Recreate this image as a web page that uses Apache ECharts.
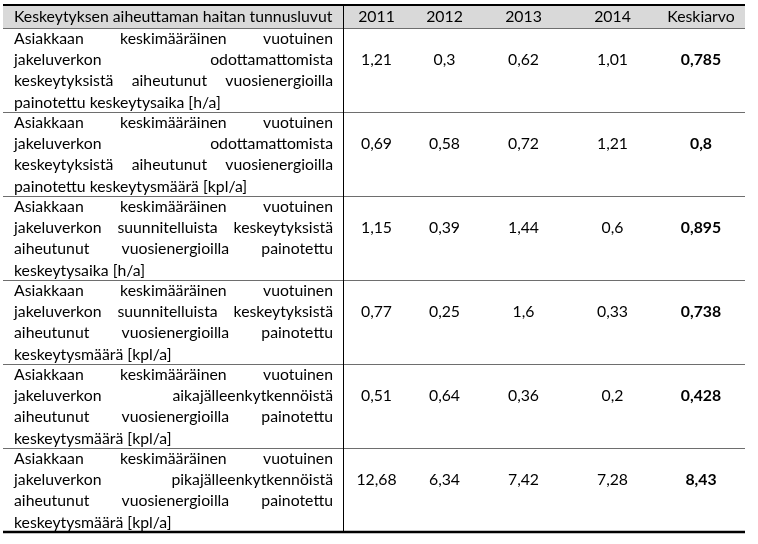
<!DOCTYPE html>
<html>
<head>
<meta charset="utf-8">
<script src="https://cdn.jsdelivr.net/npm/echarts@6/dist/echarts.min.js"></script>
<style>html,body{margin:0;padding:0;background:#fff}#c{width:758px;height:544px}</style>
</head>
<body>
<div id="c"></div>
<script>
// ---- data ----
var headerTitle = "Keskeytyksen aiheuttaman haitan tunnusluvut";
var columns = ["2011", "2012", "2013", "2014", "Keskiarvo"];
var rowLabels = [
  ["Asiakkaan keskimääräinen vuotuinen", "jakeluverkon odottamattomista", "keskeytyksistä aiheutunut vuosienergioilla", "painotettu keskeytysaika [h/a]"],
  ["Asiakkaan keskimääräinen vuotuinen", "jakeluverkon odottamattomista", "keskeytyksistä aiheutunut vuosienergioilla", "painotettu keskeytysmäärä [kpl/a]"],
  ["Asiakkaan keskimääräinen vuotuinen", "jakeluverkon suunnitelluista keskeytyksistä", "aiheutunut vuosienergioilla painotettu", "keskeytysaika [h/a]"],
  ["Asiakkaan keskimääräinen vuotuinen", "jakeluverkon suunnitelluista keskeytyksistä", "aiheutunut vuosienergioilla painotettu", "keskeytysmäärä [kpl/a]"],
  ["Asiakkaan keskimääräinen vuotuinen", "jakeluverkon aikajälleenkytkennöistä", "aiheutunut vuosienergioilla painotettu", "keskeytysmäärä [kpl/a]"],
  ["Asiakkaan keskimääräinen vuotuinen", "jakeluverkon pikajälleenkytkennöistä", "aiheutunut vuosienergioilla painotettu", "keskeytysmäärä [kpl/a]"]
];
var values2011 = [1.21, 0.69, 1.15, 0.77, 0.51, 12.68];
var values2012 = [0.3, 0.58, 0.39, 0.25, 0.64, 6.34];
var values2013 = [0.62, 0.72, 1.44, 1.6, 0.36, 7.42];
var values2014 = [1.01, 1.21, 0.6, 0.33, 0.2, 7.28];
var valuesMean = [0.785, 0.8, 0.895, 0.738, 0.428, 8.43];

// ---- layout / style ----
var FONT_FAMILY = "Lato";
var FONT_SIZE = 15.8;
var colEdges = [3, 343, 410, 479, 568, 657, 745];
var textLeft = 14, textRight = 333;
var lineGap = 21.3;
var firstLineOffset = 10.5;

var seriesCols = [values2011, values2012, values2013, values2014, valuesMean];
var rowIdx = rowLabels.map(function (_, i) { return i; });
var data = rowIdx.map(function (i) {
  return [0, i].concat(seriesCols.map(function (c) { return c[i]; }));
});

var ctx = document.createElement('canvas').getContext('2d');
function font(bold) { return (bold ? 'bold ' : 'normal ') + FONT_SIZE + 'px ' + FONT_FAMILY; }
function measure(t, bold) {
  ctx.font = font(bold);
  return ctx.measureText(t).width;
}
function fmt(v) { return String(v).replace('.', ','); }

function renderItem(params, api) {
  var i = api.value(1);
  var c = api.coord([0, i]);
  var h = api.size([0, 1])[1];
  var top = c[1] - h / 2;
  var children = [];
  var lines = rowLabels[i];
  lines.forEach(function (ln, k) {
    var y = top + firstLineOffset + lineGap * k;
    var words = ln.split(' ');
    if (k === lines.length - 1 || words.length < 2) {
      children.push({ type: 'text', style: { text: ln, x: textLeft, y: y, fill: '#000', font: font(false), align: 'left', verticalAlign: 'middle' } });
    } else {
      var ws = words.map(function (w) { return measure(w, false); });
      var tot = ws.reduce(function (a, b) { return a + b; }, 0);
      var gap = (textRight - textLeft - tot) / (words.length - 1);
      var x = textLeft;
      words.forEach(function (w, j) {
        children.push({ type: 'text', style: { text: w, x: x, y: y, fill: '#000', font: font(false), align: 'left', verticalAlign: 'middle' } });
        x += ws[j] + gap;
      });
    }
  });
  for (var j = 0; j < columns.length; j++) {
    var cx = (colEdges[j + 1] + colEdges[j + 2]) / 2;
    var bold = j === columns.length - 1;
    children.push({ type: 'text', style: { text: fmt(api.value(2 + j)), x: cx, y: top + firstLineOffset + lineGap, fill: '#000', font: font(bold), align: 'center', verticalAlign: 'middle' } });
  }
  if (i < rowLabels.length - 1) {
    var ly = Math.round(top + h) + 0.5;
    children.push({ type: 'line', shape: { x1: colEdges[0], y1: ly, x2: colEdges[colEdges.length - 1], y2: ly }, style: { stroke: '#6e6e6e', lineWidth: 1 } });
  }
  return { type: 'group', children: children };
}

var headerTop = 6, headerBottom = 28, tableBottom = 532;
var graphics = [
  { type: 'rect', shape: { x: colEdges[0], y: headerTop, width: colEdges[colEdges.length - 1] - colEdges[0], height: headerBottom - headerTop }, style: { fill: '#d9d9d9' }, z: 1 },
  { type: 'line', shape: { x1: colEdges[0], y1: 5, x2: colEdges[colEdges.length - 1], y2: 5 }, style: { stroke: '#000', lineWidth: 2 }, z: 5 },
  { type: 'line', shape: { x1: colEdges[0], y1: headerBottom + 0.5, x2: colEdges[colEdges.length - 1], y2: headerBottom + 0.5 }, style: { stroke: '#6e6e6e', lineWidth: 1 }, z: 5 },
  { type: 'line', shape: { x1: colEdges[0], y1: tableBottom, x2: colEdges[colEdges.length - 1], y2: tableBottom }, style: { stroke: '#000', lineWidth: 2.5 }, z: 5 },
  { type: 'line', shape: { x1: colEdges[1] + 0.5, y1: headerTop, x2: colEdges[1] + 0.5, y2: tableBottom }, style: { stroke: '#000', lineWidth: 1 }, z: 5 },
  { type: 'text', style: { text: headerTitle, x: textLeft, y: 17, fill: '#000', font: font(false), align: 'left', verticalAlign: 'middle' }, z: 6 }
];
columns.forEach(function (name, j) {
  graphics.push({ type: 'text', style: { text: name, x: (colEdges[j + 1] + colEdges[j + 2]) / 2, y: 17, fill: '#000', font: font(false), align: 'center', verticalAlign: 'middle' }, z: 6 });
});

var chart = echarts.init(document.getElementById('c'), null, { renderer: 'canvas' });
chart.setOption({
  animation: false,
  backgroundColor: '#fff',
  grid: { left: colEdges[0], right: 758 - colEdges[colEdges.length - 1], top: headerBottom, bottom: 544 - tableBottom },
  xAxis: { type: 'value', min: 0, max: 1, show: false },
  yAxis: { type: 'category', data: rowIdx, inverse: true, show: false },
  graphic: graphics,
  series: [{
    type: 'custom',
    renderItem: renderItem,
    data: data,
    encode: { x: 0, y: 1 },
    clip: false
  }]
});
</script>
</body>
</html>
